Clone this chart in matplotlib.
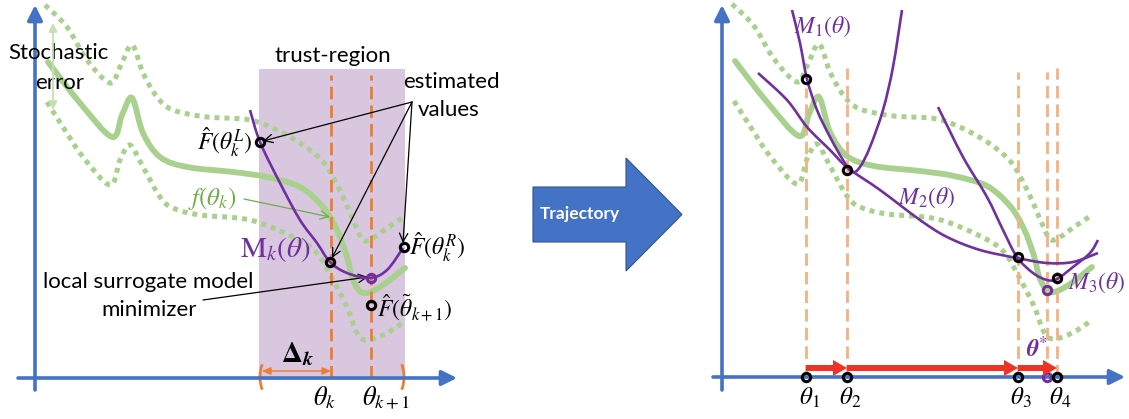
import numpy as np
import matplotlib.pyplot as plt
from matplotlib.path import Path
from matplotlib.patches import PathPatch, Rectangle, Arc, FancyArrow

plt.rcParams['font.family'] = ['Lato', 'DejaVu Sans']
plt.rcParams['mathtext.fontset'] = 'stix'

BLUE = '#4472C4'
GREEN = '#A9D18E'
LIGHT_GREEN = '#C5E0B4'
PURPLE = '#7030A0'
ORANGE = '#ED7D31'
PEACH = '#F4B183'
RED = '#EE3224'
REGION = '#D9C6DF'

# true objective f(theta) and the stochastic error band, (theta, value) pairs
f_true = [(13, 316), (45, 275), (77, 241), (87, 263), (97, 280), (108, 245),
          (125, 221), (152, 211), (198, 206), (232, 201), (265, 191), (288, 171),
          (302, 148), (312, 121), (318, 98), (328, 85), (345, 91), (370, 110)]
f_upper = [(10, 373), (32, 351), (52, 318), (75, 295), (85, 311), (97, 333),
           (108, 305), (122, 281), (138, 268), (172, 261), (215, 258), (248, 245),
           (275, 228), (292, 211), (308, 181), (318, 158), (328, 138), (338, 140),
           (352, 150), (370, 162)]
f_lower = [(12, 276), (28, 251), (48, 221), (75, 193), (85, 218), (95, 233),
           (108, 211), (125, 181), (138, 170), (165, 163), (215, 158), (258, 141),
           (282, 125), (298, 98), (312, 71), (322, 45), (332, 38), (352, 45),
           (370, 57)]

# single trust-region step
model_k = [(215, 268), (225, 236), (245, 195), (265, 158), (282, 135), (295, 116),
           (312, 105), (335, 100), (352, 108), (368, 130)]
theta_k = 296
theta_k1 = 336
region_lo, region_hi, region_top = 224, 370, 309
est_points = [(225, 236), (295, 116), (369, 131)]
est_labels = [r'$\hat{F}(\theta_k^L)$', None, r'$\hat{F}(\theta_k^R)$']
model_min = (336, 100)
f_next = (336, 73)

# trajectory of iterates and their local models
model_1 = [(70, 367), (78, 334), (85, 298), (95, 267), (108, 240), (121, 217),
           (130, 205), (138, 210), (148, 230), (161, 267), (171, 310), (180, 367)]
model_2 = [(36, 304), (65, 277), (85, 250), (108, 227), (126, 209), (158, 187),
           (198, 157), (225, 140), (258, 127), (295, 119), (325, 114), (351, 115),
           (376, 124)]
model_3 = [(216, 270), (241, 220), (265, 180), (281, 147), (295, 120), (311, 104),
           (325, 97), (335, 98), (351, 110), (368, 124), (376, 137)]
iterates = [84, 125, 296, 335]
iterate_labels = [r'$\theta_1$', r'$\theta_2$', r'$\theta_3$', r'$\theta_4$']
iterate_values = [298, 207, 120, 99]
guide_tops = [289, 309, 305, 309]
theta_star = 325
theta_star_value = 87


def smooth(points):
    pts = np.asarray(points, float)
    padded = np.vstack([pts[0], pts, pts[-1]])
    verts, codes = [pts[0]], [Path.MOVETO]
    for i in range(1, len(pts)):
        p0, p1, p2, p3 = padded[i - 1], padded[i], padded[i + 1], padded[i + 2]
        verts += [p1 + (p2 - p0) / 6, p2 - (p3 - p1) / 6, p2]
        codes += [Path.CURVE4] * 3
    return Path(verts, codes)


def curve(ax, pts, **kw):
    ax.add_patch(PathPatch(smooth(pts), fill=False, **kw))


def axes_arrows(ax, x0, x1, y0, y1):
    style = dict(arrowstyle='-|>,head_length=0.9,head_width=0.45', lw=2.6,
                 color=BLUE, shrinkA=0, shrinkB=0)
    ax.annotate('', xy=(x1, 0), xytext=(x0, 0), arrowprops=style)
    ax.annotate('', xy=(0, y1), xytext=(0, y0), arrowprops=style)


def band(ax):
    curve(ax, f_upper, color=GREEN, lw=3.6, linestyle=(0, (1, 1)), capstyle='butt', zorder=2)
    curve(ax, f_lower, color=GREEN, lw=3.6, linestyle=(0, (1, 1)), capstyle='butt', zorder=2)
    curve(ax, f_true, color=GREEN, lw=4.2, capstyle='round', zorder=2)


def ring(ax, x, y, color='black', z=6):
    ax.plot(x, y, 'o', ms=6, mfc='none', mec=color, mew=2.2, zorder=z)


W, H = 1129, 419
fig = plt.figure(figsize=(W / 100, H / 100), dpi=100)

ax0 = fig.add_axes([0, 0, 1, 1])
ax0.set_xlim(0, W)
ax0.set_ylim(H, 0)
ax0.axis('off')

ax1 = fig.add_axes([0, 0, 470 / W, 1])
ax1.set_xlim(-35, 435)
ax1.set_ylim(-41, 378)
ax1.axis('off')

ax2 = fig.add_axes([680 / W, 0, 449 / W, 1])
ax2.set_xlim(-42, 407)
ax2.set_ylim(-42, 377)
ax2.axis('off')

# ---- left: one trust-region iteration ----
ax1.add_patch(Rectangle((region_lo, -2), region_hi - region_lo, region_top + 2,
                        color=REGION, lw=0, zorder=0))
band(ax1)
for t in (theta_k, theta_k1):
    ax1.plot([t, t], [0, 303], color=ORANGE, lw=2, dashes=(4.5, 2.2), zorder=3)
curve(ax1, model_k, color=PURPLE, lw=1.9, zorder=4)
axes_arrows(ax1, -17, 422, -12, 373)

for (x, y) in est_points:
    ring(ax1, x, y)
ring(ax1, *model_min, color=PURPLE)
ring(ax1, *f_next)

ax1.text(est_points[0][0] - 8, est_points[0][1], est_labels[0], fontsize=17,
         ha='right', va='center')
ax1.text(est_points[2][0] + 5, est_points[2][1], est_labels[2], fontsize=17,
         ha='left', va='center')
ax1.text(f_next[0] + 6, f_next[1] - 3, r'$\hat{F}(\tilde{\theta}_{k+1})$', fontsize=17,
         ha='left', va='center')

ax1.text(-27, 325, 'Stochastic', fontsize=16, ha='left', va='center')
ax1.text(25, 295, 'error', fontsize=16, ha='center', va='center')
ax1.annotate('', xy=(18, 355), xytext=(18, 268),
             arrowprops=dict(arrowstyle='<|-|>,head_length=0.5,head_width=0.25',
                             color=LIGHT_GREEN, lw=1.3, shrinkA=0, shrinkB=0))
ax1.text(298, 322, 'trust-region', fontsize=16, ha='center', va='center')
ax1.text(368, 296, 'estimated', fontsize=16, ha='left', va='center')
ax1.text(414, 268, 'values', fontsize=16, ha='center', va='center')
ax1.text(177, 180, r'$f(\theta_k)$', fontsize=18, color='#70AD47', ha='center', va='center')
ax1.text(276, 128, r'$\mathrm{M}_k(\theta)$', fontsize=21, color=PURPLE, ha='right', va='center')
ax1.text(113, 96, 'local surrogate model', fontsize=16, ha='center', va='center')
ax1.text(114, 68, 'minimizer', fontsize=16, ha='center', va='center')

thin = dict(arrowstyle='->,head_length=0.6,head_width=0.3', lw=0.9, color='black',
            shrinkA=0, shrinkB=0)
for tx, ty in [(228, 237), (297, 120), (368, 135)]:
    ax1.annotate('', xy=(tx, ty), xytext=(377, 276), arrowprops=thin)
ax1.annotate('', xy=(333, 101), xytext=(168, 78), arrowprops=thin)
ax1.annotate('', xy=(295, 161), xytext=(209, 179),
             arrowprops=dict(thin, color='#70AD47'))

ax1.add_patch(Arc((240, 1), 30, 48, theta1=135, theta2=225, color=ORANGE, lw=2))
ax1.add_patch(Arc((354, 1), 30, 48, theta1=-45, theta2=45, color=ORANGE, lw=2))
ax1.annotate('', xy=(theta_k, 7), xytext=(227, 7),
             arrowprops=dict(arrowstyle='<|-|>,head_length=0.5,head_width=0.22',
                             color=ORANGE, lw=1.1, shrinkA=0, shrinkB=0))
ax1.text(263, 24, r'$\mathbf{\Delta}_{\boldsymbol{k}}$', fontsize=21, ha='center', va='center')
ax1.text(theta_k - 6, -20, r'$\theta_k$', fontsize=19, ha='center', va='center')
ax1.text(theta_k1 + 15, -20, r'$\theta_{k+1}$', fontsize=19, ha='center', va='center')

# ---- middle arrow ----
ax0.add_patch(FancyArrow(533, 214.5, 149, 0, width=55, head_width=113, head_length=56,
                         length_includes_head=True, fc=BLUE, ec='#2F528F', lw=0.8))
ax0.text(580, 214, 'Trajectory', fontsize=12.5, fontweight='bold', color='white',
         ha='center', va='center')

# ---- right: the sequence of iterates ----
band(ax2)
for t, top in zip(iterates[:2] + [iterates[2], theta_star, iterates[3]],
                  guide_tops[:2] + [guide_tops[2], 305, guide_tops[3]]):
    ax2.plot([t, t], [0, top], color=PEACH, lw=2, dashes=(4.5, 2.2), zorder=3)
for m in (model_1, model_2, model_3):
    curve(ax2, m, color=PURPLE, lw=1.9, zorder=4)
axes_arrows(ax2, -9, 403, -13, 372)

for t, v in zip(iterates, iterate_values):
    ring(ax2, t, v)
ring(ax2, theta_star, theta_star_value, color=PURPLE)
ring(ax2, theta_star, 0, color=PURPLE, z=5)

for a, b in zip(iterates[:-1], iterates[1:]):
    ax2.add_patch(FancyArrow(a, 9, b - a, 0, width=6, head_width=16, head_length=14,
                             length_includes_head=True, color=RED, lw=0, zorder=7))
for t, lab in zip(iterates, iterate_labels):
    ring(ax2, t, 0, z=8)
    ax2.text(t + 3, -21, lab, fontsize=18, ha='center', va='center')

ax2.text(101, 350, r'$M_1(\theta)$', fontsize=17, color=PURPLE, ha='center', va='center')
ax2.text(205, 179, r'$M_2(\theta)$', fontsize=17, color=PURPLE, ha='center', va='center')
ax2.text(375, 94, r'$M_3(\theta)$', fontsize=17, color=PURPLE, ha='center', va='center')
ax2.text(315, 29, r'$\boldsymbol{\theta}^{*}$', fontsize=17, color=PURPLE,
         ha='center', va='center')

fig.savefig('out.png', dpi=100)
